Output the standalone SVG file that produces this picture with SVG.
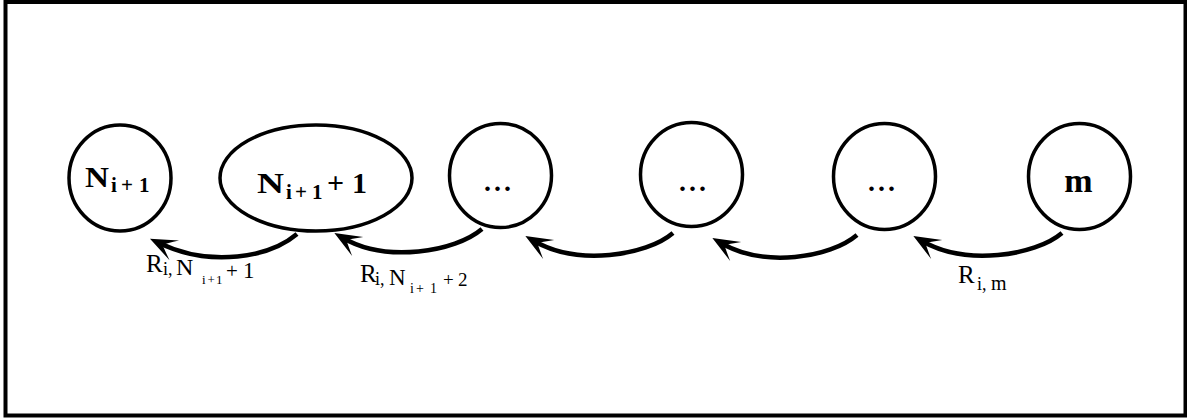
<svg xmlns="http://www.w3.org/2000/svg" width="1187" height="420" viewBox="0 0 1187 420">
<style>
.frame{fill:none;stroke:#000;stroke-width:4}
.node{fill:none;stroke:#000;stroke-width:3.5}
.lbl{font-family:"Liberation Serif","DejaVu Serif",serif;font-weight:bold;fill:#000}
.elbl{font-family:"Liberation Serif","DejaVu Serif",serif;fill:#000}
.edge{fill:none;stroke:#000;stroke-width:4.5;stroke-linecap:butt}
</style>
<defs>
<marker id="arr" markerUnits="userSpaceOnUse" viewBox="-30 -14 44 28" markerWidth="44" markerHeight="28" refX="0" refY="0" orient="auto">
<path d="M10,0 L-17,-11 Q-7,-3 -4,0 Q-7,3 -17,11 Z" fill="#000"/>
</marker>
</defs>
<rect class="frame" x="5.5" y="2" width="1180" height="413.5"/>
<g id="n1">
<ellipse class="node" cx="120" cy="178" rx="51" ry="53"/>
<text class="lbl"><tspan x="85" y="187" font-size="30" textLength="24" lengthAdjust="spacingAndGlyphs">N</tspan><tspan x="111" y="192" font-size="21">i</tspan><tspan x="121" y="192" font-size="21">+</tspan><tspan x="139" y="192" font-size="21">1</tspan></text>
</g>
<g id="n2">
<ellipse class="node" cx="316" cy="178" rx="96" ry="53"/>
<text class="lbl"><tspan x="257" y="193" font-size="30" textLength="27" lengthAdjust="spacingAndGlyphs">N</tspan><tspan x="286" y="199" font-size="21">i</tspan><tspan x="295" y="199" font-size="21">+</tspan><tspan x="312" y="199" font-size="21">1</tspan><tspan x="327" y="193" font-size="30">+</tspan><tspan x="352" y="193" font-size="30">1</tspan></text>
</g>
<g id="n3">
<ellipse class="node" cx="500.5" cy="175.5" rx="51" ry="52"/>
<text class="lbl" x="499" y="191" font-size="28" text-anchor="middle" letter-spacing="3">...</text>
</g>
<g id="n4">
<ellipse class="node" cx="691.5" cy="174.5" rx="51" ry="52"/>
<text class="lbl" x="694" y="191" font-size="28" text-anchor="middle" letter-spacing="3">...</text>
</g>
<g id="n5">
<ellipse class="node" cx="884.5" cy="176.5" rx="51" ry="53"/>
<text class="lbl" x="883" y="191" font-size="28" text-anchor="middle" letter-spacing="3">...</text>
</g>
<g id="n6">
<ellipse class="node" cx="1079.5" cy="176.5" rx="51" ry="53"/>
<text class="lbl" x="1078.5" y="192" font-size="34" text-anchor="middle">m</text>
</g>
<g id="edges">
<path class="edge" marker-end="url(#arr)" d="M297,234 C270,257 211,268 159,243"/>
<path class="edge" marker-end="url(#arr)" d="M482,229 C455,252 386,263 343,238"/>
<path class="edge" marker-end="url(#arr)" d="M673,233 C646,256 577,266 534,241"/>
<path class="edge" marker-end="url(#arr)" d="M857,235 C830,258 764,268 721,243"/>
<path class="edge" marker-end="url(#arr)" d="M1062,233 C1035,256 965,266 922,241"/>
<text class="elbl"><tspan x="146" y="272" font-size="25">R</tspan><tspan x="163" y="275" font-size="18">i,</tspan><tspan x="176" y="275" font-size="24">N</tspan><tspan x="202" y="284" font-size="13">i</tspan><tspan x="207.5" y="284" font-size="13">+</tspan><tspan x="216" y="284" font-size="13">1</tspan><tspan x="226" y="278" font-size="21">+</tspan><tspan x="243" y="278" font-size="23">1</tspan></text>
<text class="elbl"><tspan x="360" y="282" font-size="25">R</tspan><tspan x="375" y="285" font-size="18">i,</tspan><tspan x="389" y="285" font-size="23">N</tspan><tspan x="410" y="293" font-size="14">i</tspan><tspan x="416" y="293" font-size="14">+</tspan><tspan x="430" y="293" font-size="14">1</tspan><tspan x="443" y="286" font-size="19">+</tspan><tspan x="458" y="286" font-size="19">2</tspan></text>
<text class="elbl"><tspan x="958" y="283" font-size="25">R</tspan><tspan x="977" y="290" font-size="18">i,</tspan><tspan x="991" y="290" font-size="20">m</tspan></text>
</g>
</svg>
